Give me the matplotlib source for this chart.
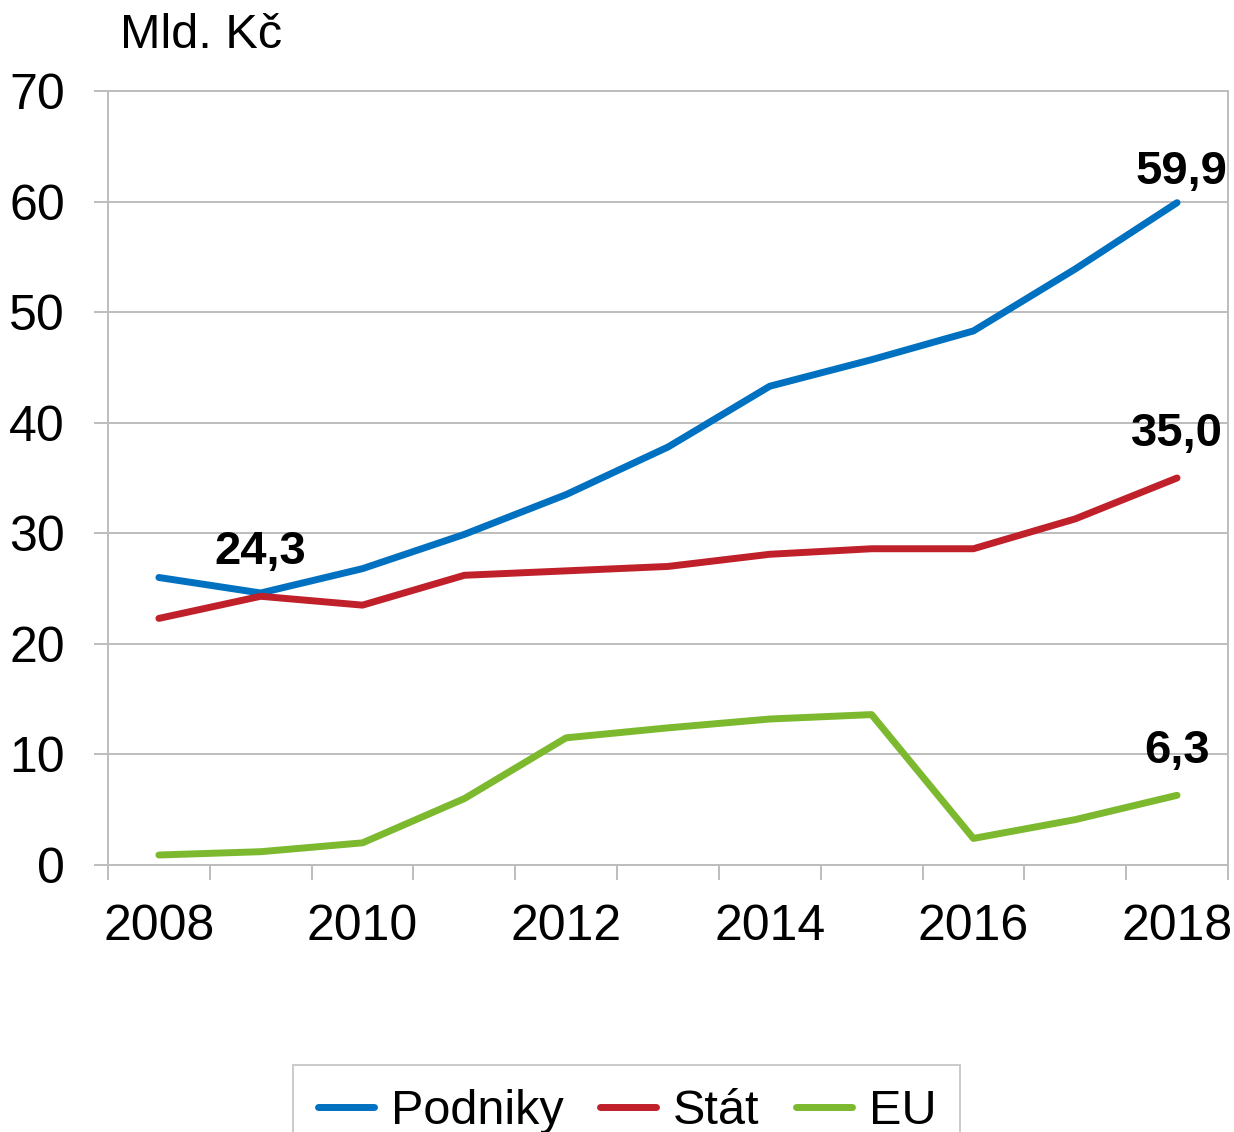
import matplotlib.pyplot as plt
from matplotlib.ticker import FixedLocator

plt.rcParams["font.family"] = ["Liberation Sans", "DejaVu Sans"]

# -----------------------------
# Data (Mld. Kč)
# -----------------------------
years = list(range(2008, 2019))
podniky = [26.0, 24.6, 26.8, 29.9, 33.5, 37.8, 43.3, 45.7, 48.3, 53.9, 59.9]
stat = [22.3, 24.3, 23.5, 26.2, 26.6, 27.0, 28.1, 28.6, 28.6, 31.3, 35.0]
eu = [0.9, 1.2, 2.0, 6.0, 11.5, 12.4, 13.2, 13.6, 2.4, 4.1, 6.3]

# labelled points: (series, index, text)
labels = [(podniky, 10, "59,9"), (stat, 10, "35,0"), (stat, 1, "24,3"), (eu, 10, "6,3")]

colors = {"Podniky": "#0070C0", "Stát": "#C0202A", "EU": "#7CB92E"}
grid_col = "#BDBDBD"

# -----------------------------
# Plot
# -----------------------------
fig = plt.figure(figsize=(12.34, 11.32), dpi=100)
ax = fig.add_axes([0.0875, 0.2359, 0.9076, 0.6837])

x = list(range(len(years)))
lw = 5
ax.plot(x, podniky, color=colors["Podniky"], lw=lw, label="Podniky", solid_capstyle="round")
ax.plot(x, stat, color=colors["Stát"], lw=lw, label="Stát", solid_capstyle="round")
ax.plot(x, eu, color=colors["EU"], lw=lw, label="EU", solid_capstyle="round")

for series, i, txt in labels:
    off = 22 if txt == "59,9" else 32
    ax.annotate(txt, (x[i], series[i]), xytext=(3 if txt == "59,9" else 0, off),
                textcoords="offset points", ha="center", va="center",
                fontsize=34, fontweight="bold")

ax.set_xlim(-0.5, 10.5)
ax.set_ylim(0, 70)
ax.set_yticks(range(0, 71, 10))
ax.yaxis.grid(True, color=grid_col, lw=1.4)
ax.set_axisbelow(True)

ax.set_xticks(x[::2])
ax.set_xticklabels([str(y) for y in years[::2]])
ax.xaxis.set_minor_locator(FixedLocator([i - 0.5 for i in range(len(years) + 1)]))
ax.tick_params(axis="x", which="major", length=0, pad=28, labelsize=36)
ax.tick_params(axis="x", which="minor", length=11, width=1.4, color=grid_col)
ax.tick_params(axis="y", length=10, width=1.4, color=grid_col, pad=21, labelsize=36)

for s in ax.spines.values():
    s.set_color(grid_col)
    s.set_linewidth(1.4)

fig.text(0.097, 0.969, "Mld. Kč", fontsize=35, va="center", ha="left")

leg = fig.legend(loc="upper center", bbox_to_anchor=(0.508, 0.0595), ncol=3, fontsize=35,
                 frameon=True, fancybox=False, edgecolor=grid_col, handlelength=1.15,
                 columnspacing=0.75, handletextpad=0.35, borderpad=0.5,
                 borderaxespad=0)
leg.get_frame().set_linewidth(1.4)

plt.savefig("out.png", dpi=100)
